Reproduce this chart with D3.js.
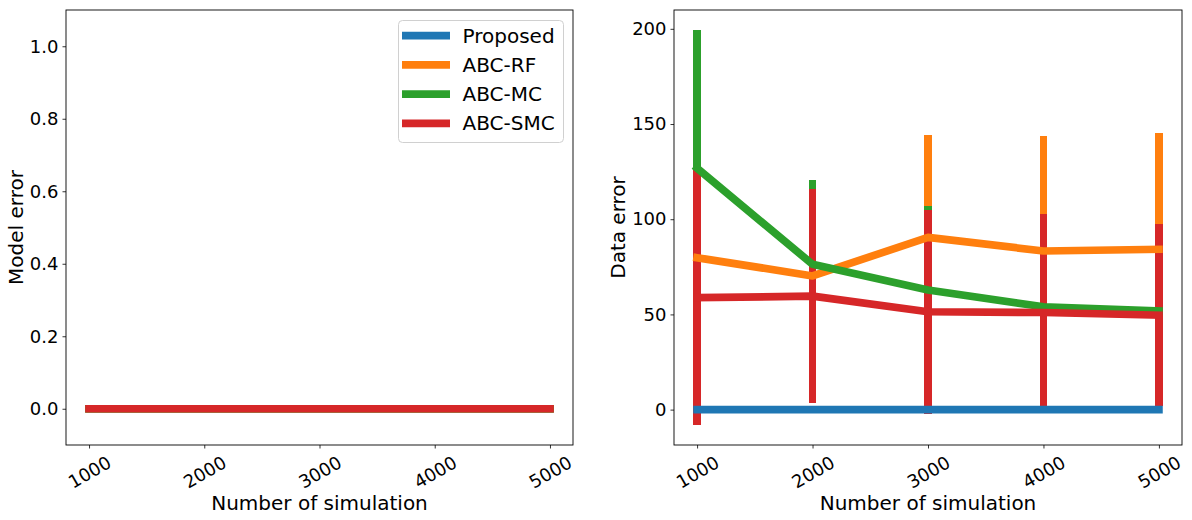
<!DOCTYPE html>
<html>
<head>
<meta charset="utf-8">
<script src="https://cdn.jsdelivr.net/npm/d3@7"></script>
<style>
  html, body { margin: 0; padding: 0; background: #fff; }
  svg { display: block; font-family: "DejaVu Sans", sans-serif; }
</style>
</head>
<body>
<svg id="chart" width="1192" height="520"></svg>
<script>
// ---- data ----
const simulations = [1000, 2000, 3000, 4000, 5000];
const seriesNames = ["Proposed", "ABC-RF", "ABC-MC", "ABC-SMC"];
const seriesColors = ["#1f77b4", "#ff7f0e", "#2ca02c", "#d62728"];

// Model error (left panel)
const modelProposed = [0, 0, 0, 0, 0];
const modelRF = [0, 0, 0, 0, 0];
const modelMC = [0, 0, 0, 0, 0];
const modelSMC = [0, 0, 0, 0, 0];

// Data error (right panel): means and error-bar half widths
const dataProposed = [0, 0, 0, 0, 0];
const dataProposedErr = [0, 0, 0, 0, 0];
const dataRF = [79.8, 70.2, 90.5, 83.3, 84.2];
const dataRFErr = [40, 38, 53.9, 60.6, 61.2];
const dataMC = [126.8, 76.3, 62.8, 54.0, 51.8];
const dataMCErr = [72.7, 44.4, 43.9, 40, 38];
const dataSMC = [58.8, 59.6, 51.4, 51.0, 49.6];
const dataSMCErr = [67.0, 56.2, 53.6, 51.8, 47.9];

const leftYTicks = [0.0, 0.2, 0.4, 0.6, 0.8, 1.0];
const rightYTicks = [0, 50, 100, 150, 200];
const xTicks = [1000, 2000, 3000, 4000, 5000];

// ---- layout ----
const svg = d3.select("#chart");
const LW = 7.7;
const panels = [
  { left: 66, right: 573, top: 10, bottom: 445 },
  { left: 674, right: 1182, top: 10, bottom: 445 }
];

function xScaleFor(p) {
  const span = d3.max(simulations) - d3.min(simulations);
  return d3.scaleLinear()
    .domain([d3.min(simulations) - 0.05 * span, d3.max(simulations) + 0.05 * span])
    .range([p.left, p.right]);
}

function drawAxes(p, x, y, yTicks, yFmt, yLabel, yLabelX) {
  const g = svg.append("g");
  const gx = g.append("g")
    .attr("transform", `translate(0,${p.bottom})`)
    .call(d3.axisBottom(x).tickValues(xTicks).tickFormat(d3.format("d")).tickSize(3.5).tickSizeOuter(0));
  gx.select(".domain").remove();
  gx.selectAll(".tick line").attr("stroke", "#000").attr("stroke-width", 0.8);
  gx.selectAll(".tick text")
    .attr("y", null).attr("dy", null)
    .attr("transform", "translate(0,27) rotate(-30)")
    .attr("text-anchor", "middle")
    .attr("dominant-baseline", "central")
    .attr("font-size", 18)
    .attr("font-family", "DejaVu Sans")
    .attr("fill", "#000");
  const gy = g.append("g")
    .attr("transform", `translate(${p.left},0)`)
    .call(d3.axisLeft(y).tickValues(yTicks).tickFormat(yFmt).tickSize(3.5).tickPadding(4).tickSizeOuter(0));
  gy.select(".domain").remove();
  gy.selectAll(".tick line").attr("stroke", "#000").attr("stroke-width", 0.8);
  gy.selectAll(".tick text")
    .attr("font-size", 18)
    .attr("font-family", "DejaVu Sans")
    .attr("fill", "#000");
  g.append("text")
    .attr("x", (p.left + p.right) / 2)
    .attr("y", 510)
    .attr("text-anchor", "middle")
    .attr("font-size", 20)
    .attr("fill", "#000")
    .text("Number of simulation");
  g.append("text")
    .attr("transform", `translate(${yLabelX},${(p.top + p.bottom) / 2}) rotate(-90)`)
    .attr("text-anchor", "middle")
    .attr("font-size", 20)
    .attr("fill", "#000")
    .text(yLabel);
}

function drawFrame(p) {
  svg.append("rect")
    .attr("x", p.left).attr("y", p.top)
    .attr("width", p.right - p.left).attr("height", p.bottom - p.top)
    .attr("fill", "none").attr("stroke", "#000").attr("stroke-width", 0.9);
}

// ---- left panel ----
{
  const p = panels[0];
  const x = xScaleFor(p);
  const y = d3.scaleLinear().domain([-0.1, 1.1]).range([p.bottom, p.top]);
  const modelSeries = [modelProposed, modelRF, modelMC, modelSMC];
  const line = d3.line().x((d, i) => x(simulations[i])).y(d => y(d));
  svg.append("clipPath").attr("id", "clipL").append("rect")
    .attr("x", p.left).attr("y", p.top).attr("width", p.right - p.left).attr("height", p.bottom - p.top);
  const gl = svg.append("g").attr("clip-path", "url(#clipL)");
  modelSeries.forEach((s, k) => {
    gl.append("path").datum(s)
      .attr("d", line)
      .attr("fill", "none")
      .attr("stroke", seriesColors[k])
      .attr("stroke-width", LW)
      .attr("stroke-linecap", "square")
      .attr("stroke-linejoin", "round");
  });
  drawFrame(p);
  drawAxes(p, x, y, leftYTicks, d3.format(".1f"), "Model error", 23);

  const lg = svg.append("g");
  const lx = 398.5, ly = 20.5, lw = 165, lh = 122;
  lg.append("rect")
    .attr("x", lx).attr("y", ly).attr("width", lw).attr("height", lh)
    .attr("rx", 4).attr("ry", 4)
    .attr("fill", "#fff").attr("fill-opacity", 0.8)
    .attr("stroke", "#d0d0d0").attr("stroke-width", 1);
  seriesNames.forEach((name, k) => {
    const cy = 35.7 + k * 29.2;
    lg.append("line")
      .attr("x1", 402).attr("x2", 450).attr("y1", cy).attr("y2", cy)
      .attr("stroke", seriesColors[k]).attr("stroke-width", LW);
    lg.append("text")
      .attr("x", 462.5).attr("y", cy)
      .attr("dominant-baseline", "central")
      .attr("font-size", 20).attr("fill", "#000")
      .text(name);
  });
}

// ---- right panel ----
{
  const p = panels[1];
  const x = xScaleFor(p);
  const means = [dataProposed, dataRF, dataMC, dataSMC];
  const errs = [dataProposedErr, dataRFErr, dataMCErr, dataSMCErr];
  let lo = Infinity, hi = -Infinity;
  means.forEach((m, k) => m.forEach((v, i) => {
    lo = Math.min(lo, v - errs[k][i]);
    hi = Math.max(hi, v + errs[k][i]);
  }));
  const pad = 0.05 * (hi - lo);
  const y = d3.scaleLinear().domain([lo - pad, hi + pad]).range([p.bottom, p.top]);

  // error bars beneath lines
  means.forEach((m, k) => {
    svg.append("g").attr("shape-rendering", "crispEdges")
      .selectAll("line").data(m).join("line")
      .attr("x1", (d, i) => x(simulations[i]))
      .attr("x2", (d, i) => x(simulations[i]))
      .attr("y1", (d, i) => y(d - errs[k][i]))
      .attr("y2", (d, i) => y(d + errs[k][i]))
      .attr("stroke", seriesColors[k])
      .attr("stroke-width", LW)
      .attr("stroke-linecap", "butt");
  });
  const line = d3.line().x((d, i) => x(simulations[i])).y(d => y(d));
  means.forEach((m, k) => {
    svg.append("path").datum(m)
      .attr("d", line)
      .attr("fill", "none")
      .attr("stroke", seriesColors[k])
      .attr("stroke-width", LW)
      .attr("stroke-linecap", "square")
      .attr("stroke-linejoin", "round");
  });
  drawFrame(p);
  drawAxes(p, x, y, rightYTicks, d3.format("d"), "Data error", 625);
}
</script>
</body>
</html>
